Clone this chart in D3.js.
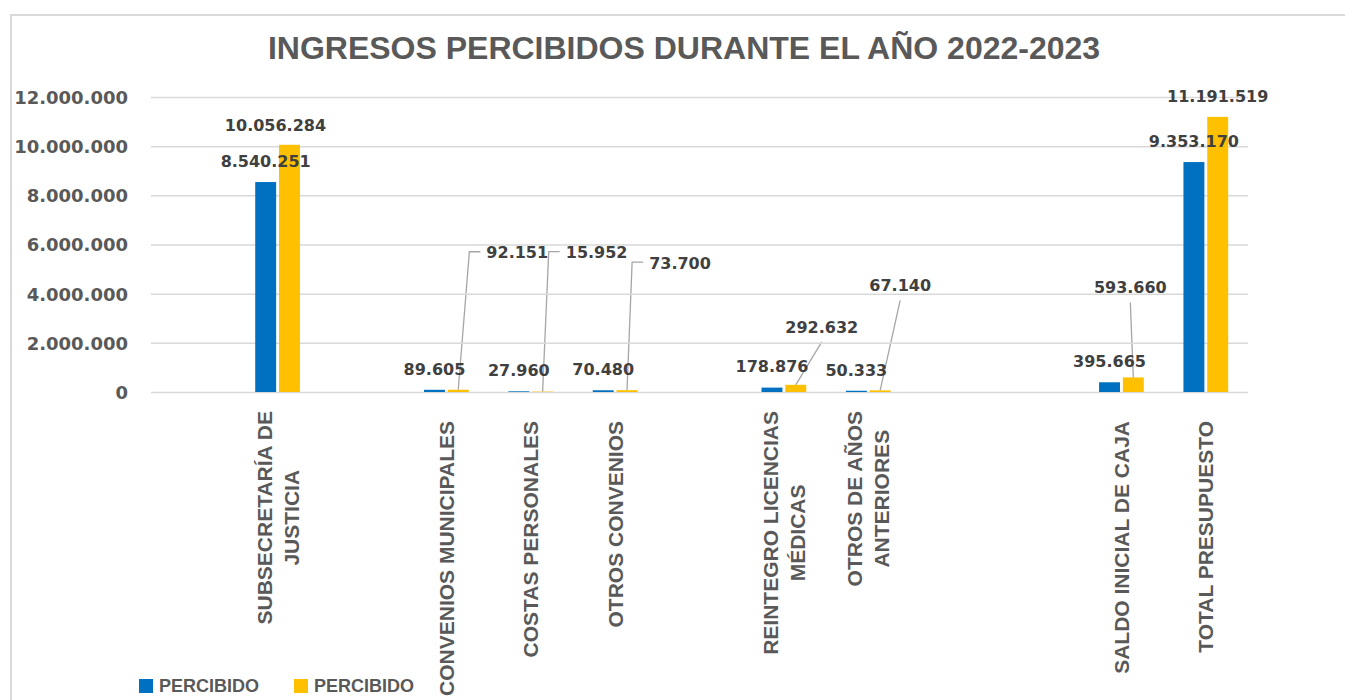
<!DOCTYPE html>
<meta charset="utf-8">
<style>
    body {
        margin: 0;
        background: #fff;
    }
    .tick-label {
        font-family: "DejaVu Sans", sans-serif;
        font-weight: bold;
        font-size: 18px;
        fill: #595959;
    }
    .value-label {
        font-family: "DejaVu Sans", sans-serif;
        font-weight: bold;
        font-size: 16px;
        fill: #404040;
    }
    .cat-label {
        font-family: "Liberation Sans", Arial, sans-serif;
        font-weight: bold;
        font-size: 21px;
        fill: #595959;
    }
</style>
<body>
<div id="chart"></div>
<script src="https://d3js.org/d3.v7.min.js"></script>
<script>
  // empty slots are kept, the original chart leaves gaps between groups
  var categories = ["", "SUBSECRETARÍA DE\nJUSTICIA", "", "CONVENIOS MUNICIPALES", "COSTAS PERSONALES",
    "OTROS CONVENIOS", "", "REINTEGRO LICENCIAS\nMÉDICAS", "OTROS DE AÑOS\nANTERIORES", "", "",
    "SALDO INICIAL DE CAJA", "TOTAL PRESUPUESTO"];

  var percibidoA = [null, 8540251, null, 89605, 27960, 70480, null, 178876, 50333, null, null, 395665, 9353170];
  var percibidoB = [null, 10056284, null, 92151, 15952, 73700, null, 292632, 67140, null, null, 593660, 11191519];

  var seriesNames = ["PERCIBIDO", "PERCIBIDO"];
  var yTicks = [0, 2000000, 4000000, 6000000, 8000000, 10000000, 12000000];

  var colors = ["#0070c0", "#ffc000"];

  // label placement for the second series (dx, dy from bar top centre, leader type)
  var labelMoves = [null, [-14, -20], null, [59, -137, "side"], [54, -139, "side"], [53, -127, "side"],
    null, [26, -58, "below"], [20, -105, "below"], null, null, [-3, -90, "below"], null];

  var W = 1345, H = 700;
  var svg = d3.select("#chart").append("svg")
    .attr("width", W)
    .attr("height", H);

  // chart frame
  svg.append("rect")
    .attr("x", 11).attr("y", 15)
    .attr("width", W + 20).attr("height", H + 20)
    .attr("fill", "none")
    .attr("stroke", "#d9d9d9")
    .attr("stroke-width", 2);

  svg.append("text")
    .attr("x", 684).attr("y", 59)
    .attr("text-anchor", "middle")
    .style("font-family", "'Liberation Sans', Arial, sans-serif")
    .style("font-weight", "bold")
    .style("font-size", "32px")
    .style("fill", "#595959")
    .text("INGRESOS PERCIBIDOS DURANTE EL AÑO 2022-2023");

  var x0 = d3.scaleBand()
    .domain(d3.range(categories.length))
    .range([151, 1248])
    .paddingInner(0.47)
    .paddingOuter(0.235);

  var x1 = d3.scaleBand()
    .domain([0, 1])
    .range([0, x0.bandwidth()])
    .paddingInner(0.12);

  var y = d3.scaleLinear()
    .domain([0, 12000000])
    .range([392, 97]);

  var fmt = function (v) {
    return d3.format(",d")(v).replace(/,/g, ".");
  };

  // gridlines + tick labels
  var yAxis = d3.axisLeft(y).tickValues(yTicks).tickSize(-(1248 - 151)).tickFormat(fmt);
  var ga = svg.append("g")
    .attr("transform", "translate(151,0)")
    .call(yAxis);
  ga.select(".domain").remove();
  ga.selectAll(".tick line")
    .attr("stroke", "#d9d9d9")
    .attr("stroke-width", 1.5);
  ga.selectAll(".tick text")
    .attr("class", "tick-label")
    .attr("x", 128 - 151)
    .attr("dy", "0.36em")
    .attr("font-family", null)
    .attr("font-size", null);

  var series = [percibidoA, percibidoB];

  var groups = svg.append("g");
  series.forEach(function (vals, s) {
    var data = vals.map(function (v, i) { return { i: i, v: v }; })
      .filter(function (d) { return d.v != null; });

    groups.selectAll(".bar" + s)
      .data(data)
      .enter()
      .append("rect")
      .attr("x", function (d) { return x0(d.i) + x1(s); })
      .attr("y", function (d) { return y(d.v); })
      .attr("width", x1.bandwidth())
      .attr("height", function (d) { return y(0) - y(d.v); })
      .attr("fill", colors[s]);
  });

  // value labels
  series.forEach(function (vals, s) {
    vals.forEach(function (v, i) {
      if (v == null) return;
      var bx = x0(i) + x1(s) + x1.bandwidth() / 2;
      var by = y(v);
      var mv = (s == 1 && labelMoves[i]) ? labelMoves[i] : [0, -21];
      var cx = bx + mv[0], cy = by + mv[1];
      var t = svg.append("text")
        .attr("class", "value-label")
        .attr("x", cx)
        .attr("y", cy)
        .attr("dy", "0.36em")
        .attr("text-anchor", "middle")
        .text(fmt(v));
      if (mv[2] == "side") {
        var left = cx - t.node().getComputedTextLength() / 2;
        svg.insert("path", "text")
          .attr("d", "M" + (left - 6) + "," + (cy - 1) + "H" + (left - 17) + "L" + bx + "," + by)
          .attr("fill", "none")
          .attr("stroke", "#a6a6a6")
          .attr("stroke-width", 1.3);
      } else if (mv[2] == "below") {
        svg.insert("path", "text")
          .attr("d", "M" + cx + "," + (cy + 15) + "L" + bx + "," + by)
          .attr("fill", "none")
          .attr("stroke", "#a6a6a6")
          .attr("stroke-width", 1.3);
      }
    });
  });

  // rotated category labels
  categories.forEach(function (c, i) {
    if (!c) return;
    var lines = c.split("\n");
    var cx = x0(i) + x0.bandwidth() / 2;
    var lineGap = 27;
    var g = svg.append("g");
    var texts = lines.map(function (l, k) {
      return g.append("text")
        .attr("class", "cat-label")
        .attr("text-anchor", "middle")
        .attr("dy", "0.36em")
        .text(l);
    });
    var maxLen = d3.max(texts, function (t) { return t.node().getComputedTextLength(); });
    var top = lines.length > 1 ? 411 : 421;
    var cy = top + maxLen / 2;
    texts.forEach(function (t, k) {
      var lx = cx + (k - (lines.length - 1) / 2) * lineGap;
      t.attr("transform", "translate(" + lx + "," + cy + ") rotate(-90)");
    });
  });

  // legend
  var legendX = [139, 294];
  seriesNames.forEach(function (n, s) {
    svg.append("rect")
      .attr("x", legendX[s]).attr("y", 679)
      .attr("width", 14).attr("height", 14)
      .attr("fill", colors[s]);
    svg.append("text")
      .attr("x", legendX[s] + 20).attr("y", 686)
      .attr("dy", "0.36em")
      .style("font-family", "'Liberation Sans', Arial, sans-serif")
      .style("font-weight", "bold")
      .style("font-size", "18px")
      .style("fill", "#595959")
      .text(n);
  });
</script>
</body>
